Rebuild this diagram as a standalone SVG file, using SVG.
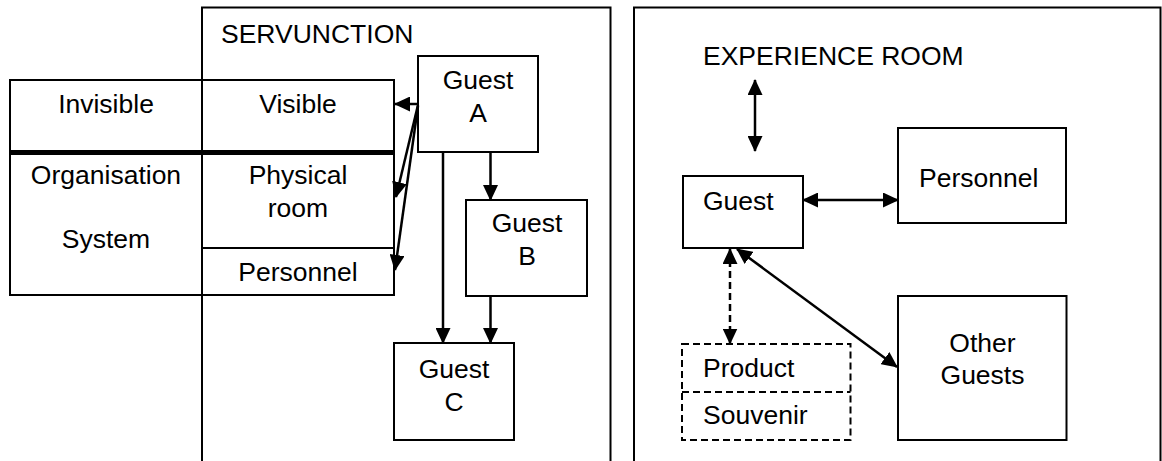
<svg xmlns="http://www.w3.org/2000/svg" width="1162" height="461" viewBox="0 0 1162 461">
  <style>
    text { font-family: "Liberation Sans", Arial, sans-serif; font-size: 26.5px; fill: #000; }
    .c { text-anchor: middle; }
    .box { fill: #fff; stroke: #000; stroke-width: 2; }
    .frame { fill: none; stroke: #000; stroke-width: 2; }
    .dash { fill: #fff; stroke: #000; stroke-width: 2; stroke-dasharray: 7 4; }
    .line { fill: none; stroke: #000; stroke-width: 2.5; }
    .one { marker-end: url(#head); }
    .two { marker-start: url(#head); marker-end: url(#head); }
  </style>
  <defs>
    <marker id="head" viewBox="0 0 16 15" refX="15" refY="7.5" markerWidth="16" markerHeight="15" markerUnits="userSpaceOnUse" orient="auto-start-reverse">
      <path d="M0,0 L16,7.5 L0,15 z" fill="#000"/>
    </marker>
  </defs>

  <!-- Servunction panel -->
  <g id="servunction">
    <rect class="frame" x="202" y="7.5" width="408.5" height="470"/>
    <text x="221" y="42.5">SERVUNCTION</text>
  </g>

  <!-- Invisible / visible table -->
  <g id="system-table">
    <rect class="box" x="10" y="80" width="384" height="215"/>
    <line x1="202" y1="80" x2="202" y2="295" stroke="#000" stroke-width="2"/>
    <line x1="10" y1="152.5" x2="394" y2="152.5" stroke="#000" stroke-width="5"/>
    <line x1="202" y1="248" x2="394" y2="248" stroke="#000" stroke-width="2"/>
    <text class="c" x="106" y="113">Invisible</text>
    <text class="c" x="298" y="113">Visible</text>
    <text class="c" x="106" y="184">Organisation</text>
    <text class="c" x="106" y="248">System</text>
    <text class="c" x="298" y="184">Physical</text>
    <text class="c" x="298" y="216.5">room</text>
    <text class="c" x="298" y="281">Personnel</text>
  </g>

  <g id="guest-a">
    <rect class="box" x="418" y="56" width="120" height="96"/>
    <text class="c" x="478" y="89">Guest</text>
    <text class="c" x="478" y="121.5">A</text>
  </g>
  <g id="guest-b">
    <rect class="box" x="466" y="200" width="121" height="96"/>
    <text class="c" x="527" y="232">Guest</text>
    <text class="c" x="527" y="265">B</text>
  </g>
  <g id="guest-c">
    <rect class="box" x="394" y="343" width="120" height="97"/>
    <text class="c" x="454" y="378">Guest</text>
    <text class="c" x="454" y="410.5">C</text>
  </g>

  <!-- Experience room panel -->
  <g id="experience-room">
    <rect class="frame" x="634" y="7.5" width="526.5" height="470"/>
    <text x="703" y="65">EXPERIENCE ROOM</text>
  </g>
  <g id="guest">
    <rect class="box" x="683" y="176" width="120" height="72"/>
    <text x="703" y="210">Guest</text>
  </g>
  <g id="personnel">
    <rect class="box" x="898" y="128" width="168" height="95"/>
    <text x="919" y="186.5">Personnel</text>
  </g>
  <g id="other-guests">
    <rect class="box" x="898" y="296" width="168.5" height="144"/>
    <text class="c" x="982.5" y="351.5">Other</text>
    <text class="c" x="982.5" y="384">Guests</text>
  </g>
  <g id="product-souvenir">
    <rect class="dash" x="682" y="344" width="168.5" height="96"/>
    <line x1="682" y1="392" x2="850.5" y2="392" stroke="#000" stroke-width="2" stroke-dasharray="7 4"/>
    <text x="703" y="376.5">Product</text>
    <text x="703" y="424">Souvenir</text>
  </g>

  <!-- Connectors -->
  <g id="connectors">
    <line class="line one" x1="418" y1="104" x2="395" y2="104"/>
    <line class="line one" x1="418" y1="105" x2="396" y2="197"/>
    <line class="line one" x1="418" y1="106" x2="395" y2="270"/>
    <line class="line one" x1="443" y1="152" x2="443" y2="343"/>
    <line class="line one" x1="490.5" y1="152" x2="490.5" y2="200"/>
    <line class="line one" x1="490.5" y1="296" x2="490.5" y2="343"/>

    <line class="line two" x1="755" y1="80" x2="755" y2="151"/>
    <line class="line two" x1="803" y1="200" x2="898" y2="200"/>
    <line class="line two" x1="737" y1="249" x2="897" y2="367"/>
    <line class="line two" x1="730" y1="249" x2="730" y2="343.5" stroke-dasharray="7 4"/>
  </g>
</svg>
